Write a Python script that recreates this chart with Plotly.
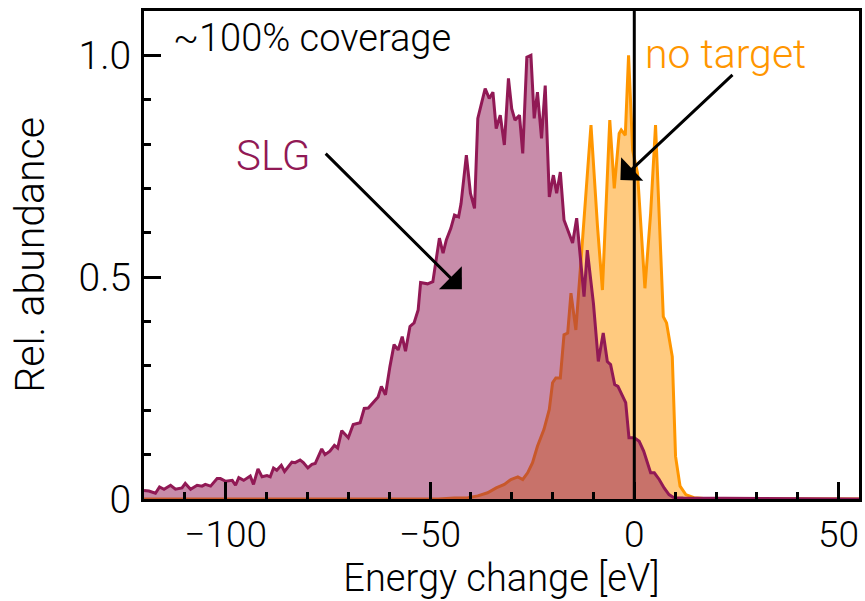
import plotly.graph_objects as go

# SLG spectrum: energy change [eV] and relative abundance
slg_energy = [
    -120.0, -118.8, -117.2, -116.2, -115.1, -113.5, -112.3, -110.7, -109.9, -108.6,
    -107.0, -105.8, -105.0, -103.7, -102.1, -101.3, -100.0, -98.4, -97.6, -96.8,
    -95.6, -94.0, -93.2, -92.1, -91.1, -89.9, -89.1, -88.3, -87.5, -86.4,
    -85.6, -83.8, -83.0, -81.8, -81.0, -79.9, -78.9, -78.1, -76.5, -75.7,
    -74.5, -73.4, -72.6, -71.6, -70.0, -68.8, -67.1, -66.1, -65.1, -63.9,
    -62.7, -61.9, -60.9, -59.8, -58.8, -57.8, -56.8, -56.0, -54.9, -53.9,
    -52.9, -52.3, -50.6, -49.3, -48.5, -47.7, -46.8, -46.0, -44.9, -44.0,
    -43.0, -42.4, -41.1, -40.1, -39.1, -38.3, -37.5, -36.5, -35.5, -34.6,
    -33.8, -32.8, -31.8, -30.8, -30.0, -29.2, -28.1, -27.3, -26.3, -25.3,
    -24.5, -23.7, -22.7, -21.8, -20.8, -19.8, -19.0, -18.1, -17.2, -15.9,
    -15.1, -14.1, -13.3, -12.3, -11.5, -10.0, -8.8, -7.6, -6.6, -5.8,
    -4.8, -4.0, -2.1, -1.3, 0.0, 1.2, 2.3, 3.2, 4.0, 4.9,
    6.1, 7.3, 8.5, 9.7, 12.0, 55.0,
]
slg_abundance = [
    0.019, 0.018, 0.013, 0.027, 0.022, 0.031, 0.022, 0.025, 0.035, 0.022,
    0.031, 0.029, 0.033, 0.029, 0.046, 0.046, 0.040, 0.042, 0.031, 0.048,
    0.042, 0.052, 0.033, 0.068, 0.050, 0.053, 0.050, 0.070, 0.065, 0.076,
    0.062, 0.083, 0.082, 0.088, 0.082, 0.070, 0.078, 0.080, 0.113, 0.100,
    0.108, 0.121, 0.115, 0.154, 0.138, 0.168, 0.172, 0.204, 0.205, 0.217,
    0.230, 0.254, 0.235, 0.299, 0.348, 0.336, 0.366, 0.333, 0.389, 0.397,
    0.426, 0.488, 0.485, 0.490, 0.539, 0.588, 0.554, 0.584, 0.610, 0.640,
    0.636, 0.666, 0.775, 0.689, 0.655, 0.858, 0.888, 0.925, 0.903, 0.917,
    0.835, 0.865, 0.798, 0.948, 0.880, 0.854, 0.865, 0.779, 0.996, 1.000,
    0.858, 0.917, 0.813, 0.932, 0.681, 0.730, 0.689, 0.737, 0.629, 0.599,
    0.577, 0.633, 0.554, 0.456, 0.561, 0.441, 0.310, 0.374, 0.310, 0.303,
    0.258, 0.254, 0.217, 0.138, 0.138, 0.130, 0.108, 0.082, 0.059, 0.059,
    0.044, 0.025, 0.010, 0.003, 0.002, 0.000,
]

# Reference spectrum without target
nt_energy = [
    -120.0, -48.0, -44.0, -40.7, -38.3, -35.9, -33.8, -31.8, -30.2, -28.5,
    -27.3, -26.1, -24.9, -23.7, -22.1, -20.8, -20.0, -19.2, -18.1, -17.2,
    -16.3, -15.5, -14.3, -10.6, -9.0, -7.8, -6.0, -4.9, -3.7, -3.2,
    -2.2, -1.4, -0.4, 0.8, 2.6, 4.0, 5.2, 7.1, 7.9, 9.3,
    10.1, 11.2, 12.6, 14.6, 17.0, 20.0, 55.0,
]
nt_abundance = [
    0.000, 0.000, 0.002, 0.003, 0.007, 0.014, 0.025, 0.033, 0.044, 0.050,
    0.044, 0.059, 0.082, 0.119, 0.157, 0.202, 0.262, 0.273, 0.273, 0.370,
    0.374, 0.464, 0.381, 0.843, 0.614, 0.471, 0.854, 0.700, 0.824, 0.832,
    0.820, 1.000, 0.786, 0.734, 0.475, 0.644, 0.843, 0.411, 0.397, 0.321,
    0.096, 0.029, 0.010, 0.003, 0.001, 0.000, 0.000,
]

x_tickvals = [-100, -50, 0, 50]
x_ticktext = ["\u2212100", "\u221250", "0", "50"]
y_tickvals = [0, 0.5, 1.0]
y_ticktext = ["0", "0.5", "1.0"]

SLG_LINE = "rgb(145,25,85)"
SLG_FILL = "rgba(145,25,85,0.5)"
NT_LINE = "rgb(255,150,0)"
NT_FILL = "rgba(255,150,0,0.5)"
FONT = "Roboto"

fig = go.Figure()
fig.add_trace(go.Scatter(
    x=nt_energy, y=nt_abundance, mode="lines", fill="tozeroy",
    line=dict(color=NT_LINE, width=3), fillcolor=NT_FILL, showlegend=False,
))
fig.add_trace(go.Scatter(
    x=slg_energy, y=slg_abundance, mode="lines", fill="tozeroy",
    line=dict(color=SLG_LINE, width=3), fillcolor=SLG_FILL, showlegend=False,
))

# vertical marker at zero energy change
fig.add_shape(type="line", x0=0, x1=0, y0=0, y1=1, yref="paper", xref="x",
              line=dict(color="black", width=3))

fig.add_annotation(x=-79, y=1.04, text="~100% coverage", showarrow=False,
                   font=dict(size=38, color="black", family=FONT, weight=300))
fig.add_annotation(x=-88.5, y=0.775, text="SLG", showarrow=False,
                   font=dict(size=42, color=SLG_LINE, family=FONT, weight=300))
fig.add_annotation(x=22.4, y=1.004, text="no target", showarrow=False,
                   font=dict(size=41, color=NT_LINE, family=FONT, weight=300))

# pointer arrows
fig.add_annotation(x=-42.2, y=0.473, ax=-75.9, ay=0.782, axref="x", ayref="y",
                   text="", showarrow=True, arrowhead=1, arrowsize=1.8,
                   arrowwidth=3, arrowcolor="black", standoff=0, startstandoff=0)
fig.add_annotation(x=-3.4, y=0.719, ax=24.4, ay=0.959, axref="x", ayref="y",
                   text="", showarrow=True, arrowhead=1, arrowsize=1.8,
                   arrowwidth=3, arrowcolor="black", standoff=0, startstandoff=0)

axis_common = dict(
    showline=True, linecolor="black", linewidth=3, mirror=True,
    ticks="inside", ticklen=17, tickwidth=2.5, tickcolor="black",
    showgrid=False, zeroline=False,
)

fig.update_xaxes(
    range=[-120, 55], tickvals=x_tickvals, ticktext=x_ticktext,
    ticklabelstandoff=1,
    tickfont=dict(size=37, color="black", family=FONT, weight=300),
    minor=dict(ticks="inside", ticklen=7, tickwidth=2.5, tickcolor="black",
               tick0=0, dtick=10),
    title=dict(text="Energy change [eV]", standoff=4,
               font=dict(size=38, color="black", family=FONT, weight=300)),
    **axis_common,
)
fig.update_yaxes(
    range=[0, 1.1], tickvals=y_tickvals, ticktext=y_ticktext,
    ticklabelstandoff=2,
    tickfont=dict(size=39, color="black", family=FONT, weight=300),
    minor=dict(ticks="inside", ticklen=7, tickwidth=2.5, tickcolor="black",
               tick0=0, dtick=0.1),
    title=dict(text="Rel. abundance", standoff=22,
               font=dict(size=41, color="black", family=FONT, weight=300)),
    **axis_common,
)

fig.update_layout(
    width=865, height=601,
    margin=dict(l=144, r=3, t=11, b=102),
    plot_bgcolor="white", paper_bgcolor="white",
    font=dict(family=FONT, weight=300),
)

fig.write_html("out.html")
